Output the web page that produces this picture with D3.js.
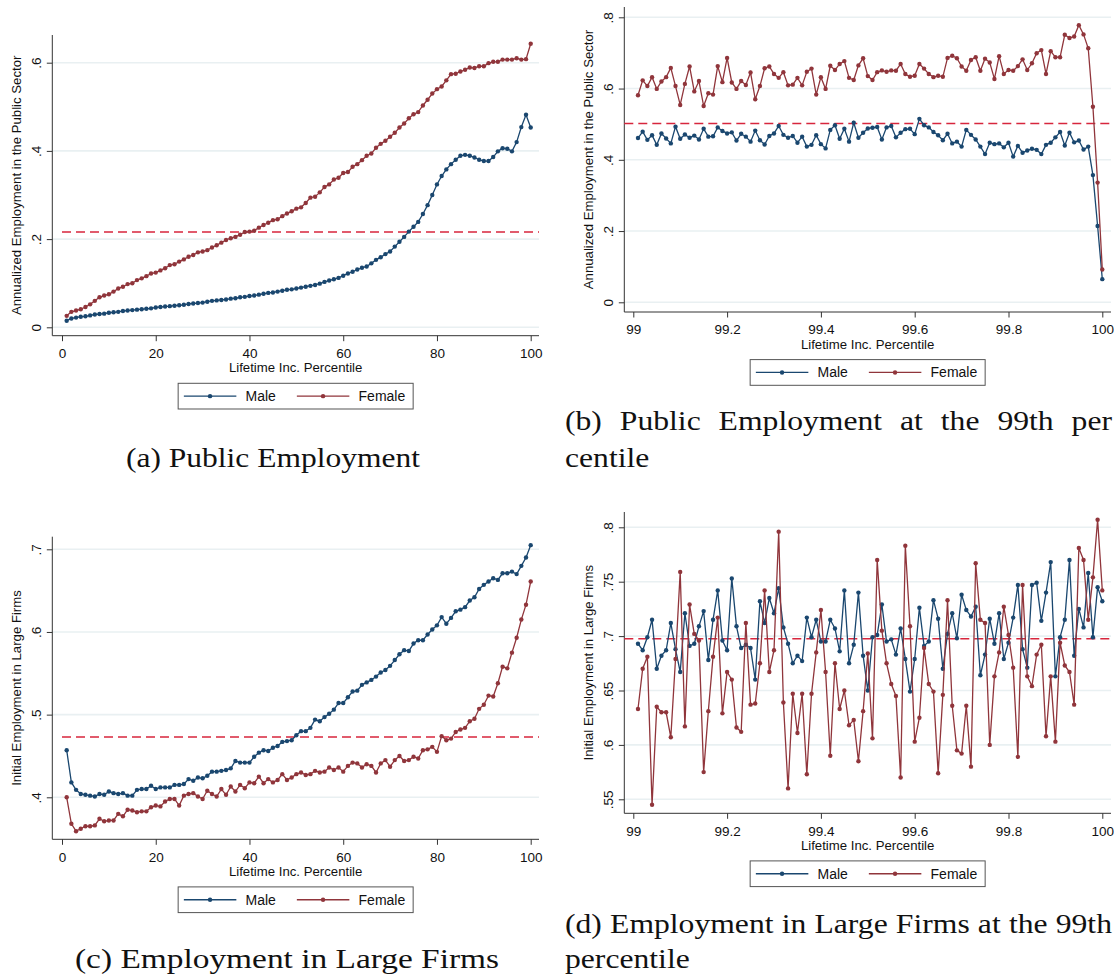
<!DOCTYPE html>
<html>
<head>
<meta charset="utf-8">
<script src="https://cdn.jsdelivr.net/npm/d3@7"></script>
<style>
  body { margin: 0; background: #fff; }
  svg { display: block; }
</style>
</head>
<body>
<svg id="fig" width="1114" height="975"></svg>
<script>
// ---------------------------------------------------------------------------
// Series
// ---------------------------------------------------------------------------
const seriesNames  = ["Male", "Female"];
const seriesColors = ["#1a476f", "#90353b"];
const refColor     = "#d7263d";

// Percentile bins 1..100 and the top-percentile bins 99.01..100.00
const percentiles    = d3.range(1, 101);
const topPercentiles = d3.range(1, 101).map(i => +(99 + i / 100).toFixed(2));

// (a) Annualized employment in the public sector, by lifetime-income percentile
const maleA = [
  .015,.020,.022,.024,.025,.027,.029,.030,.031,.033,
  .034,.035,.037,.038,.039,.040,.041,.042,.043,.045,
  .046,.047,.048,.049,.050,.051,.053,.054,.055,.056,
  .058,.060,.061,.062,.063,.065,.066,.068,.069,.071,
  .072,.074,.076,.078,.079,.081,.083,.085,.086,.088,
  .090,.092,.094,.096,.099,.103,.106,.109,.112,.117,
  .122,.126,.131,.135,.138,.145,.153,.159,.166,.172,
  .183,.194,.205,.217,.228,.239,.257,.277,.300,.324,
  .343,.358,.370,.380,.389,.391,.389,.385,.380,.377,
  .377,.386,.399,.406,.405,.399,.420,.454,.482,.453
];
const femaleA = [
  .026,.035,.038,.041,.046,.052,.060,.068,.072,.075,
  .081,.088,.092,.098,.100,.107,.111,.116,.122,.124,
  .129,.134,.141,.143,.149,.154,.160,.164,.170,.172,
  .175,.181,.186,.192,.198,.202,.205,.210,.216,.217,
  .219,.226,.232,.237,.243,.245,.252,.258,.263,.269,
  .272,.282,.294,.296,.306,.318,.324,.335,.339,.350,
  .352,.364,.370,.379,.389,.394,.407,.416,.423,.432,
  .441,.453,.462,.474,.483,.488,.503,.516,.530,.540,
  .546,.560,.574,.575,.580,.584,.589,.588,.592,.592,
  .599,.602,.602,.607,.607,.607,.610,.607,.608,.643
];
const refA = 0.216;

// (b) Public employment inside the top percentile
const maleB = [
  .461,.479,.456,.469,.442,.474,.460,.446,.493,.459,
  .471,.462,.468,.457,.487,.465,.466,.491,.481,.474,
  .477,.454,.473,.465,.451,.482,.455,.443,.467,.474,
  .495,.470,.462,.467,.448,.465,.437,.442,.469,.444,
  .432,.484,.497,.459,.487,.451,.504,.462,.476,.488,
  .490,.492,.457,.491,.495,.463,.476,.486,.487,.472,
  .515,.497,.491,.478,.469,.455,.473,.446,.451,.437,
  .484,.470,.457,.437,.416,.448,.444,.446,.435,.448,
  .409,.439,.420,.426,.431,.428,.416,.442,.448,.463,
  .478,.440,.476,.449,.454,.429,.437,.357,.214,.065
];
const femaleB = [
  .581,.623,.607,.632,.599,.620,.632,.658,.607,.554,
  .613,.662,.592,.621,.551,.587,.583,.663,.618,.686,
  .617,.599,.621,.610,.645,.570,.607,.657,.662,.641,
  .630,.646,.609,.611,.630,.609,.647,.656,.583,.632,
  .599,.664,.652,.669,.677,.630,.624,.665,.685,.635,
  .624,.646,.651,.647,.651,.650,.669,.641,.633,.636,
  .669,.656,.641,.632,.636,.633,.686,.692,.685,.662,
  .650,.680,.688,.650,.684,.673,.627,.691,.641,.652,
  .650,.663,.682,.652,.671,.699,.708,.641,.705,.688,
  .688,.751,.742,.746,.778,.752,.713,.549,.336,.092
];
const refB = 0.502;

// (c) Initial employment in large firms, by lifetime-income percentile
const maleC = [
  .457,.418,.409,.404,.403,.402,.401,.404,.403,.407,
  .405,.404,.405,.402,.402,.409,.410,.410,.414,.410,
  .412,.412,.412,.415,.415,.416,.422,.420,.424,.423,
  .426,.431,.431,.432,.433,.435,.444,.442,.442,.442,
  .449,.454,.457,.456,.460,.462,.467,.468,.469,.475,
  .480,.480,.484,.494,.492,.497,.501,.506,.514,.514,
  .521,.528,.529,.536,.539,.542,.546,.551,.554,.559,
  .566,.573,.578,.577,.586,.590,.590,.597,.603,.608,
  .618,.610,.617,.625,.627,.630,.638,.642,.652,.657,
  .661,.665,.663,.671,.671,.673,.670,.680,.690,.705
];
const femaleC = [
  .400,.368,.359,.362,.365,.365,.366,.374,.371,.372,
  .372,.380,.377,.385,.384,.382,.383,.383,.388,.390,
  .389,.395,.398,.398,.390,.402,.404,.405,.401,.398,
  .408,.404,.401,.410,.403,.413,.407,.415,.411,.418,
  .417,.425,.417,.422,.418,.421,.428,.421,.424,.428,
  .430,.427,.428,.432,.430,.431,.436,.433,.436,.431,
  .438,.442,.441,.436,.440,.438,.430,.441,.445,.437,
  .445,.450,.444,.445,.449,.447,.457,.458,.461,.455,
  .474,.469,.471,.479,.482,.484,.492,.495,.507,.512,
  .523,.522,.538,.558,.556,.575,.593,.615,.633,.661
];
const refC = 0.473;

// (d) Employment in large firms inside the top percentile
const maleD = [
  .693,.687,.699,.715,.670,.682,.687,.712,.688,.667,
  .721,.691,.693,.709,.723,.678,.715,.742,.696,.687,
  .753,.709,.689,.692,.689,.660,.732,.712,.735,.721,
  .744,.708,.693,.675,.682,.677,.717,.699,.715,.695,
  .695,.715,.707,.686,.742,.675,.692,.740,.682,.650,
  .699,.701,.729,.695,.697,.683,.707,.679,.649,.679,
  .726,.691,.695,.733,.716,.670,.702,.721,.698,.738,
  .724,.718,.727,.664,.683,.716,.693,.721,.679,.694,
  .717,.747,.688,.671,.747,.749,.714,.740,.768,.663,
  .699,.715,.770,.682,.725,.708,.758,.699,.745,.732
];
const femaleD = [
  .633,.670,.681,.545,.635,.630,.630,.607,.679,.759,
  .617,.729,.702,.696,.575,.631,.681,.717,.629,.667,
  .660,.616,.612,.712,.637,.638,.675,.742,.667,.687,
  .796,.639,.560,.647,.611,.647,.573,.647,.685,.724,
  .667,.590,.675,.633,.650,.618,.623,.585,.631,.684,
  .606,.770,.705,.675,.656,.645,.570,.783,.709,.603,
  .625,.689,.656,.649,.574,.646,.733,.636,.595,.592,
  .636,.580,.767,.715,.712,.600,.663,.685,.727,.701,
  .671,.589,.747,.663,.654,.683,.692,.608,.663,.603,
  .694,.673,.667,.637,.781,.770,.715,.754,.807,.742
];
const refD = 0.6975;

// Axis ticks and labels
const xTicksPct  = [0, 20, 40, 60, 80, 100];
const xLabelsPct = ["0", "20", "40", "60", "80", "100"];
const xTicksTop  = [99, 99.2, 99.4, 99.6, 99.8, 100];
const xLabelsTop = ["99", "99.2", "99.4", "99.6", "99.8", "100"];
const yTicksA  = [0, .2, .4, .6];            const yLabelsA = ["0", ".2", ".4", ".6"];
const yTicksB  = [0, .2, .4, .6, .8];        const yLabelsB = ["0", ".2", ".4", ".6", ".8"];
const yTicksC  = [.4, .5, .6, .7];           const yLabelsC = [".4", ".5", ".6", ".7"];
const yTicksD  = [.55, .6, .65, .7, .75, .8]; const yLabelsD = [".55", ".6", ".65", ".7", ".75", ".8"];

const xTitle       = "Lifetime Inc. Percentile";
const yTitlePublic = "Annualized Employment in the Public Sector";
const yTitleLarge  = "Initial Employment in Large Firms";

const captionA = "(a) Public Employment";
const captionB = ["(b) Public Employment at the 99th per", "centile"];
const captionC = "(c) Employment in Large Firms";
const captionD = ["(d) Employment in Large Firms at the 99th", "percentile"];

// ---------------------------------------------------------------------------
// Drawing
// ---------------------------------------------------------------------------
const sans  = "'Liberation Sans', Arial, sans-serif";
const serif = "'Liberation Serif', 'Times New Roman', serif";
const svg = d3.select("#fig");

const panels = [
  { xs: percentiles, series: [maleA, femaleA], ref: refA, refFromOrigin: true,
    xDom: [0, 100], xRng: [62, 530.7], yDom: [0, .6], yRng: [327.3, 62.7],
    left: 52.3, right: 539, top: 35, bottom: 335.7,
    xTicks: xTicksPct, xLabels: xLabelsPct, yTicks: yTicksA, yLabels: yLabelsA,
    yTitle: yTitlePublic, yTitleX: 16 },
  { xs: topPercentiles, series: [maleB, femaleB], ref: refB, refFromOrigin: false,
    xDom: [99, 100], xRng: [633.3, 1102.3], yDom: [0, .8], yRng: [302.3, 17.3],
    left: 624.3, right: 1111, top: 7, bottom: 312,
    xTicks: xTicksTop, xLabels: xLabelsTop, yTicks: yTicksB, yLabels: yLabelsB,
    yTitle: yTitlePublic, yTitleX: 588.5 },
  { xs: percentiles, series: [maleC, femaleC], ref: refC, refFromOrigin: true,
    xDom: [0, 100], xRng: [62, 530.7], yDom: [.4, .7], yRng: [797.3, 549.3],
    left: 52.3, right: 539, top: 536.7, bottom: 839.3,
    xTicks: xTicksPct, xLabels: xLabelsPct, yTicks: yTicksC, yLabels: yLabelsC,
    yTitle: yTitleLarge, yTitleX: 16 },
  { xs: topPercentiles, series: [maleD, femaleD], ref: refD, refFromOrigin: false,
    xDom: [99, 100], xRng: [633.3, 1102.3], yDom: [.55, .8], yRng: [799.3, 527.3],
    left: 624.3, right: 1111, top: 512, bottom: 813.3,
    xTicks: xTicksTop, xLabels: xLabelsTop, yTicks: yTicksD, yLabels: yLabelsD,
    yTitle: yTitleLarge, yTitleX: 588.5 }
];

function drawPanel(p) {
  const g = svg.append("g");
  const x = d3.scaleLinear().domain(p.xDom).range(p.xRng);
  const y = d3.scaleLinear().domain(p.yDom).range(p.yRng);

  // horizontal grid
  g.append("g").selectAll("line").data(p.yTicks).join("line")
    .attr("x1", p.left).attr("x2", p.right)
    .attr("y1", d => y(d)).attr("y2", d => y(d))
    .attr("stroke", "#e9f0f2").attr("stroke-width", 1.6);

  // x axis
  const xa = g.append("g").attr("transform", `translate(0,${p.bottom})`)
    .call(d3.axisBottom(x).tickValues(p.xTicks)
      .tickFormat((d, i) => p.xLabels[i]).tickSize(5.5).tickPadding(3));
  xa.select(".domain").remove();
  xa.selectAll(".tick line").attr("stroke", "#333").attr("stroke-width", 1);
  xa.selectAll(".tick text").attr("font-family", sans).attr("font-size", 13.5)
    .attr("fill", "#111").attr("y", 22.3).attr("dy", 0);

  // y axis with rotated labels
  const ya = g.append("g").attr("transform", `translate(${p.left},0)`)
    .call(d3.axisLeft(y).tickValues(p.yTicks)
      .tickFormat((d, i) => p.yLabels[i]).tickSize(5.5));
  ya.select(".domain").remove();
  ya.selectAll(".tick line").attr("stroke", "#333").attr("stroke-width", 1);
  ya.selectAll(".tick text").attr("font-family", sans).attr("font-size", 13.5)
    .attr("fill", "#111").attr("text-anchor", "middle")
    .attr("transform", "rotate(-90)").attr("x", 0).attr("y", -11.3).attr("dy", 0);

  // frame lines
  g.append("line").attr("x1", p.left).attr("x2", p.left).attr("y1", p.top).attr("y2", p.bottom)
    .attr("stroke", "#333").attr("stroke-width", 1);
  g.append("line").attr("x1", p.left).attr("x2", p.right).attr("y1", p.bottom).attr("y2", p.bottom)
    .attr("stroke", "#333").attr("stroke-width", 1);

  // axis titles
  g.append("text").attr("x", (p.left + p.right) / 2).attr("y", p.bottom + 36.5)
    .attr("text-anchor", "middle").attr("font-family", sans).attr("font-size", 13.2)
    .attr("fill", "#111").text(xTitle);
  g.append("text")
    .attr("transform", `translate(${p.yTitleX},${(p.top + p.bottom) / 2}) rotate(-90)`)
    .attr("text-anchor", "middle").attr("dy", "0.35em")
    .attr("font-family", sans).attr("font-size", 13.2).attr("fill", "#111").text(p.yTitle);

  // reference level
  g.append("line")
    .attr("x1", p.refFromOrigin ? x(p.xDom[0]) : p.left).attr("x2", p.right)
    .attr("y1", y(p.ref)).attr("y2", y(p.ref))
    .attr("stroke", refColor).attr("stroke-width", 1.4).attr("stroke-dasharray", "9,5");

  // connected series
  const line = d3.line().x((d, i) => x(p.xs[i])).y(d => y(d));
  p.series.forEach((vals, k) => {
    const s = g.append("g");
    s.append("path").datum(vals).attr("d", line)
      .attr("fill", "none").attr("stroke", seriesColors[k]).attr("stroke-width", 1.3);
    s.selectAll("circle").data(vals).join("circle")
      .attr("cx", (d, i) => x(p.xs[i])).attr("cy", d => y(d)).attr("r", 2.2)
      .attr("fill", seriesColors[k]);
  });

  // legend
  const lw = 235, lh = 25.7;
  const lx = (p.left + p.right) / 2 - lw / 2, ly = p.bottom + 47.6;
  const lg = g.append("g").attr("transform", `translate(${lx},${ly})`);
  lg.append("rect").attr("width", lw).attr("height", lh)
    .attr("fill", "#fff").attr("stroke", "#555").attr("stroke-width", 1);
  const entryX = [5.7, 118.7];
  seriesNames.forEach((name, k) => {
    const e = lg.append("g").attr("transform", `translate(${entryX[k]},${lh / 2})`);
    e.append("line").attr("x1", 0).attr("x2", 52.5).attr("stroke", seriesColors[k]).attr("stroke-width", 1.3);
    e.append("circle").attr("cx", 26.2).attr("r", 2.2).attr("fill", seriesColors[k]);
    e.append("text").attr("x", 61.7).attr("dy", "0.36em").attr("font-family", sans)
      .attr("font-size", 14).attr("fill", "#111").text(name);
  });
}

panels.forEach(drawPanel);

// ---------------------------------------------------------------------------
// Sub-figure captions
// ---------------------------------------------------------------------------
const capSize = 28, capStretch = 1.13;
const capG = svg.append("g").attr("fill", "#111");

function centeredCaption(text, cx, baseline, width) {
  capG.append("text").attr("x", cx).attr("y", baseline).attr("text-anchor", "middle")
    .attr("font-family", serif).attr("font-size", capSize).text(text)
    .attr("textLength", width).attr("lengthAdjust", "spacingAndGlyphs");
}

function justifiedLine(text, x0, x1, baseline) {
  const words = text.split(" ");
  const nodes = words.map(w => capG.append("text").attr("y", baseline)
    .attr("font-family", serif).attr("font-size", capSize).text(w));
  const widths = nodes.map(n => n.node().getComputedTextLength() * capStretch);
  const gap = (x1 - x0 - d3.sum(widths)) / (words.length - 1);
  let cx = x0;
  nodes.forEach((n, i) => {
    n.attr("x", cx).attr("textLength", widths[i]).attr("lengthAdjust", "spacingAndGlyphs");
    cx += widths[i] + gap;
  });
}

function leftLine(text, x0, baseline) {
  const t = capG.append("text").attr("x", x0).attr("y", baseline)
    .attr("font-family", serif).attr("font-size", capSize).text(text);
  t.attr("textLength", t.node().getComputedTextLength() * capStretch)
    .attr("lengthAdjust", "spacingAndGlyphs");
}

centeredCaption(captionA, 273, 467, 294);
justifiedLine(captionB[0], 565, 1112, 430);
leftLine(captionB[1], 565, 467);
centeredCaption(captionC, 287, 968, 424);
justifiedLine(captionD[0], 565, 1112, 933);
leftLine(captionD[1], 565, 968);
</script>
</body>
</html>
